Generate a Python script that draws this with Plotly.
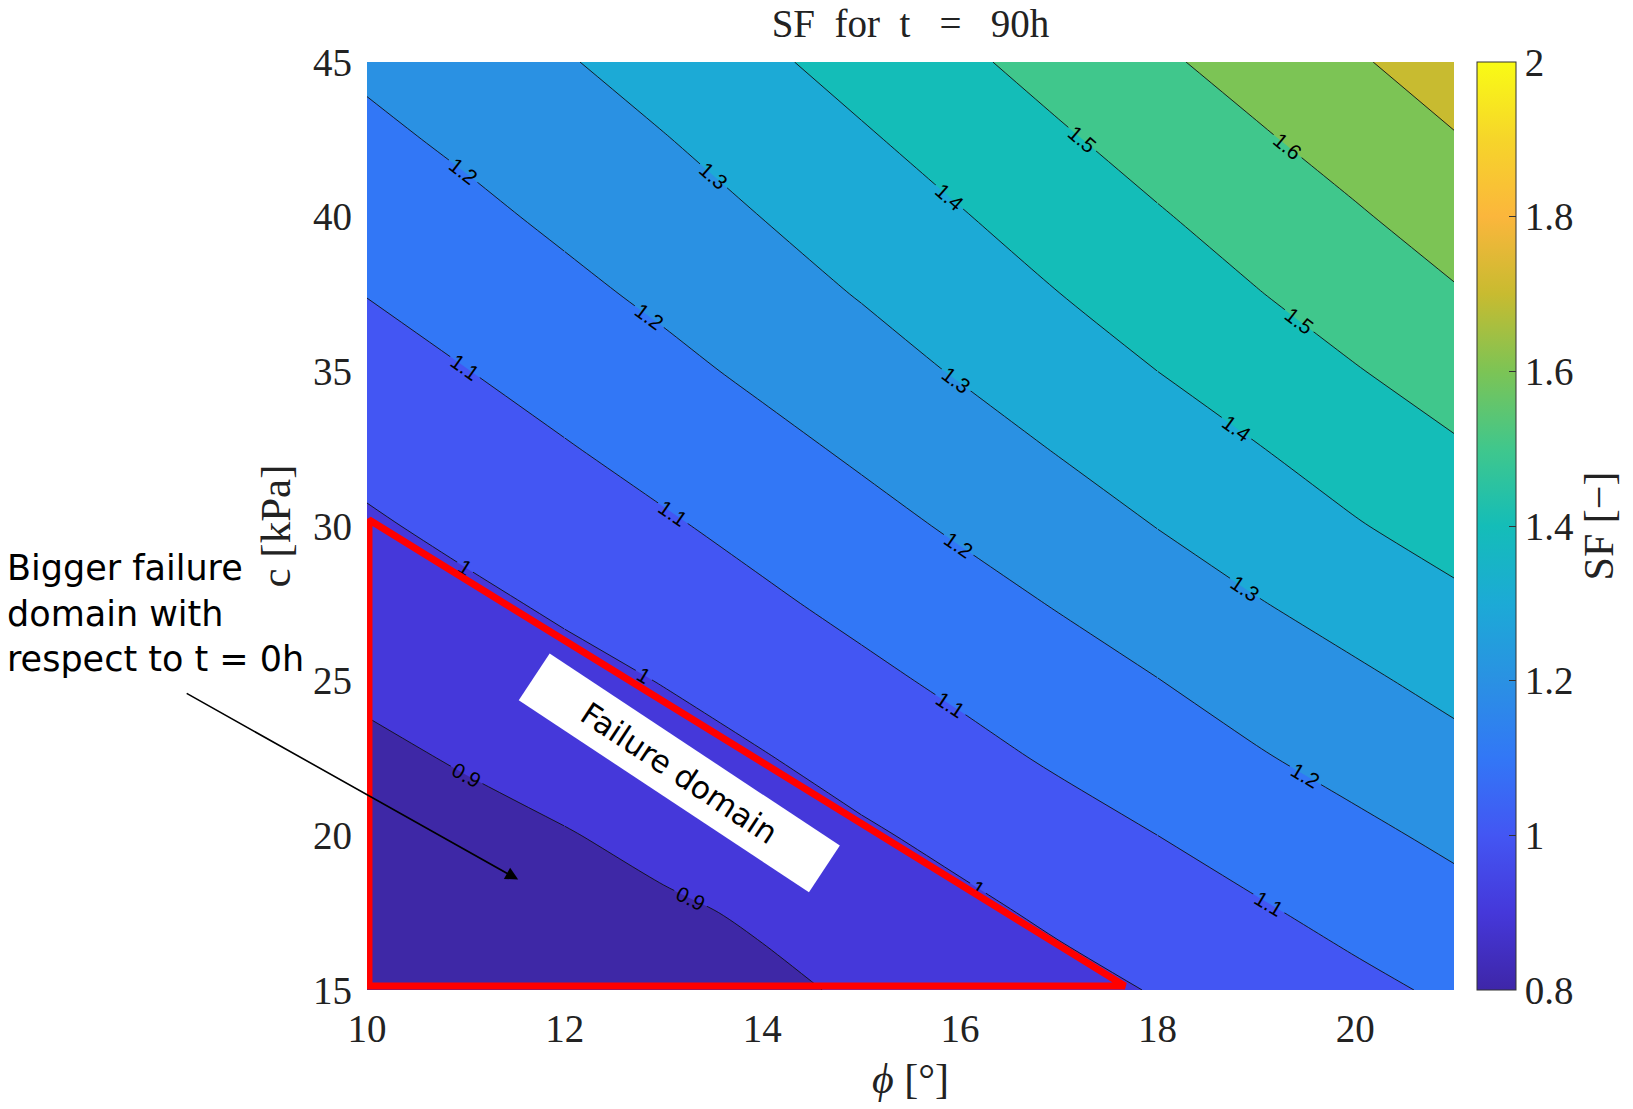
import plotly.graph_objects as go

# ---------------- data ----------------
phi_deg = [10, 11, 12, 13, 14, 15, 16, 17, 18, 19, 20, 21]
c_kpa = [15, 17.5, 20, 22.5, 25, 27.5, 30, 32.5, 35, 37.5, 40, 42.5, 45]

sf_c15_0 = [0.778, 0.804, 0.830, 0.857, 0.883, 0.911, 0.942, 0.973, 1.005, 1.042, 1.078, 1.115]
sf_c17_5 = [0.813, 0.837, 0.862, 0.886, 0.911, 0.947, 0.980, 1.015, 1.052, 1.089, 1.128, 1.167]
sf_c20_0 = [0.847, 0.871, 0.895, 0.925, 0.956, 0.988, 1.023, 1.062, 1.100, 1.140, 1.179, 1.219]
sf_c22_5 = [0.881, 0.908, 0.937, 0.966, 0.995, 1.033, 1.072, 1.112, 1.152, 1.192, 1.232, 1.272]
sf_c25_0 = [0.917, 0.946, 0.974, 1.003, 1.041, 1.079, 1.118, 1.158, 1.198, 1.241, 1.283, 1.327]
sf_c27_5 = [0.953, 0.982, 1.013, 1.049, 1.085, 1.124, 1.165, 1.206, 1.251, 1.295, 1.339, 1.382]
sf_c30_0 = [0.989, 1.021, 1.055, 1.089, 1.128, 1.170, 1.212, 1.257, 1.302, 1.348, 1.394, 1.437]
sf_c32_5 = [1.026, 1.060, 1.094, 1.133, 1.173, 1.215, 1.260, 1.305, 1.351, 1.396, 1.443, 1.490]
sf_c35_0 = [1.064, 1.098, 1.137, 1.176, 1.218, 1.262, 1.307, 1.354, 1.400, 1.447, 1.495, 1.541]
sf_c37_5 = [1.102, 1.140, 1.178, 1.218, 1.262, 1.305, 1.352, 1.399, 1.447, 1.496, 1.544, 1.592]
sf_c40_0 = [1.140, 1.178, 1.218, 1.259, 1.301, 1.347, 1.394, 1.443, 1.492, 1.541, 1.590, 1.643]
sf_c42_5 = [1.179, 1.217, 1.257, 1.296, 1.342, 1.389, 1.438, 1.488, 1.538, 1.588, 1.640, 1.694]
sf_c45_0 = [1.217, 1.255, 1.293, 1.338, 1.384, 1.433, 1.483, 1.534, 1.585, 1.637, 1.690, 1.745]
sf_grid = [sf_c15_0, sf_c17_5, sf_c20_0, sf_c22_5, sf_c25_0, sf_c27_5, sf_c30_0,
           sf_c32_5, sf_c35_0, sf_c37_5, sf_c40_0, sf_c42_5, sf_c45_0]

level_start, level_end, level_step = 0.9, 1.7, 0.1

# parula-like colours of each filled band (lower bound 0.8, 0.9, ..., 1.7)
band_colors = ["#3e28a6", "#4538da", "#4356f3", "#3277f6", "#2a91e3",
               "#1caad6", "#14bdb8", "#40c78c", "#7cc455", "#c8bb30"]

# continuous colour bar (parula) from 0.8 to 2
cbar_values = [0.8, 0.9, 1.0, 1.1, 1.2, 1.3, 1.4, 1.5, 1.6, 1.7, 1.8, 1.9, 2.0]
cbar_colors = ["#3e26a8", "#4538da", "#4356f3", "#3277f6", "#2a91e3",
               "#1caad6", "#14bdb8", "#40c78c", "#7cc455", "#c8bb30",
               "#fbb63c", "#f6d52a", "#f9fb15"]
cbar_min, cbar_max = 0.8, 2.0
cbar_tickvals = [0.8, 1.0, 1.2, 1.4, 1.6, 1.8, 2.0]
cbar_ticktext = ["0.8", "1", "1.2", "1.4", "1.6", "1.8", "2"]

x_tickvals = [10, 12, 14, 16, 18, 20]
y_tickvals = [15, 20, 25, 30, 35, 40, 45]

# column index ranges used to label every contour line several times
label_segments = [(0, 3), (2, 6), (5, 9), (8, 12)]

# failure-domain triangle (phi, c)
failure_phi = [10.02, 10.02, 17.67, 10.02, 10.02]
failure_c = [30.2, 15.13, 15.13, 30.2, 15.13]

# ---------------- figure ----------------
SERIF = "Liberation Serif"
SANS = "DejaVu Sans"
TXT = "#222222"
SMOOTH = 0.8

# plot area in page pixels
L, R, T, B = 367, 1455, 62, 990
PW, PH = R - L, B - T

n_bands = len(band_colors) - 1
contour_scale = [[k / n_bands, col] for k, col in enumerate(band_colors)]
span = cbar_max - cbar_min
cbar_scale = [[(v - cbar_min) / span, col] for v, col in zip(cbar_values, cbar_colors)]

contour_levels = dict(start=level_start, end=level_end, size=level_step)

fig = go.Figure()

# filled bands
fig.add_trace(go.Contour(
    x=phi_deg, y=c_kpa, z=sf_grid,
    autocontour=False,
    contours=dict(**contour_levels, coloring="fill", showlabels=False),
    colorscale=contour_scale,
    line=dict(color="rgba(0,0,0,0)", width=0, smoothing=SMOOTH),
    showscale=False, hoverinfo="skip",
))

# contour lines with labels (split in column blocks so each line gets several labels)
for i0, i1 in label_segments:
    fig.add_trace(go.Contour(
        x=phi_deg[i0:i1], y=c_kpa, z=[row[i0:i1] for row in sf_grid],
        autocontour=False,
        contours=dict(**contour_levels, coloring="none", showlabels=True,
                      labelfont=dict(family="Liberation Sans", size=21, color="black")),
        line=dict(color="#111111", width=0.9, smoothing=SMOOTH),
        showscale=False, hoverinfo="skip",
    ))

# dummy heatmap only to show a continuous colour bar
fig.add_trace(go.Heatmap(
    x=[100, 101], y=[100], z=[[cbar_min, cbar_max]],
    zmin=cbar_min, zmax=cbar_max, colorscale=cbar_scale,
    hoverinfo="skip",
    colorbar=dict(
        x=(1477 - L) / PW, xanchor="left", xpad=0,
        y=0.5, yanchor="middle", len=1.0, lenmode="fraction", ypad=0,
        thickness=39, outlinewidth=1, outlinecolor="#333333",
        ticks="inside", ticklen=7, tickwidth=1, tickcolor="#333333",
        tickvals=cbar_tickvals, ticktext=cbar_ticktext,
        tickfont=dict(family=SERIF, size=39, color=TXT),
        title=dict(text="SF [\u2212]", side="right",
                   font=dict(family=SERIF, size=42, color=TXT)),
    ),
))

fig.add_trace(go.Scatter(
    x=failure_phi, y=failure_c, mode="lines",
    line=dict(color="#ff0000", width=7),
    hoverinfo="skip", showlegend=False,
))

fig.update_layout(
    width=1633, height=1109,
    margin=dict(l=L, r=1633 - R, t=T, b=1109 - B),
    paper_bgcolor="white", plot_bgcolor="white",
    showlegend=False,
    title=dict(text="SF\u2002for\u2002t\u2002 =\u2002 90h",
               x=0.5, xref="paper", xanchor="center",
               y=1 - 23 / 1109, yref="container", yanchor="middle",
               font=dict(family=SERIF, size=39, color=TXT)),
    xaxis=dict(range=[10, 21], tickvals=x_tickvals, showgrid=False,
               zeroline=False, showline=False, ticks="",
               ticklabelstandoff=12,
               tickfont=dict(family=SERIF, size=39, color=TXT),
               title=dict(text="<i>\u03d5</i> [\u00b0]", standoff=14,
                          font=dict(family=SERIF, size=42, color=TXT))),
    yaxis=dict(range=[15, 45], tickvals=y_tickvals, showgrid=False,
               zeroline=False, showline=False, ticks="",
               ticklabelstandoff=14,
               tickfont=dict(family=SERIF, size=39, color=TXT),
               title=dict(text="c [kPa]", standoff=8,
                          font=dict(family=SERIF, size=43, color=TXT))),
)

fig.add_annotation(
    x=11.53, y=18.57, xref="x", yref="y", text="",
    showarrow=True, arrowhead=2, arrowsize=1.6, arrowwidth=1.6,
    arrowcolor="black", axref="pixel", ayref="pixel", ax=-333, ay=-187,
)

fig.add_annotation(
    x=(5 - L) / PW, y=(B - 613) / PH, xref="paper", yref="paper",
    xanchor="left", yanchor="middle", align="left", showarrow=False,
    text="Bigger failure<br>domain with<br>respect to t = 0h",
    font=dict(family=SANS, size=35, color="black"),
)

fig.add_annotation(
    x=13.16, y=22.0, xref="x", yref="y", showarrow=False,
    text="Failure domain", textangle=33.5,
    bgcolor="white", width=346, height=54, borderpad=1, borderwidth=0,
    font=dict(family=SANS, size=31, color="black"),
)

fig.write_html(
    "out.html",
    config={"displayModeBar": False},
    post_script="document.body.style.margin='0px';document.body.style.padding='0px';",
)
